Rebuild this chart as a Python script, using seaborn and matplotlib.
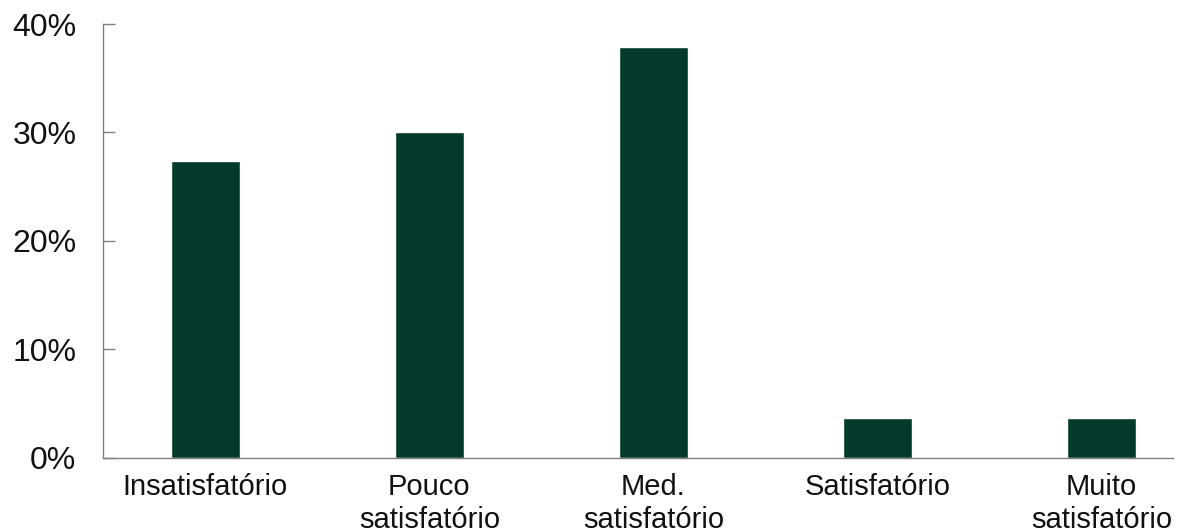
import matplotlib
matplotlib.use("Agg")
import matplotlib.pyplot as plt
import seaborn as sns
import pandas as pd
from matplotlib.ticker import FuncFormatter

categories = ["Insatisfatório", "Pouco\nsatisfatório", "Med.\nsatisfatório",
              "Satisfatório", "Muito\nsatisfatório"]
shares = [27.4, 30.0, 37.9, 3.7, 3.7]
y_ticks = [0, 10, 20, 30, 40]

sns.set_theme(style="white")
plt.rcParams["font.family"] = ["Liberation Sans", "DejaVu Sans"]

df = pd.DataFrame({"categoria": categories, "pct": shares})

fig = plt.figure(figsize=(11.85, 5.31), dpi=100)
ax = fig.add_axes([0.0873, 0.1375, 0.9026, 0.8173])

sns.barplot(data=df, x="categoria", y="pct", color="#033a2b", width=0.308,
            saturation=1, ax=ax)

ax.set_xlim(-0.455, 4.32)
ax.set_ylim(0, 40)
ax.set_yticks(y_ticks)
ax.yaxis.set_major_formatter(FuncFormatter(lambda v, _: f"{v:.0f}%"))
ax.set_xlabel("")
ax.set_ylabel("")

for side in ["top", "right"]:
    ax.spines[side].set_visible(False)
for side in ["left", "bottom"]:
    ax.spines[side].set_color("#808080")
    ax.spines[side].set_linewidth(1.0)

ax.tick_params(axis="y", direction="in", length=8.6, width=1.0, color="#808080",
               labelsize=23, pad=19.5, labelcolor="#111111", left=True)
ax.tick_params(axis="x", length=0, labelsize=21, pad=10.5, labelcolor="#111111")
for lbl in ax.get_xticklabels():
    lbl.set_linespacing(1.25)

fig.savefig("out.png", dpi=100, facecolor="white")
